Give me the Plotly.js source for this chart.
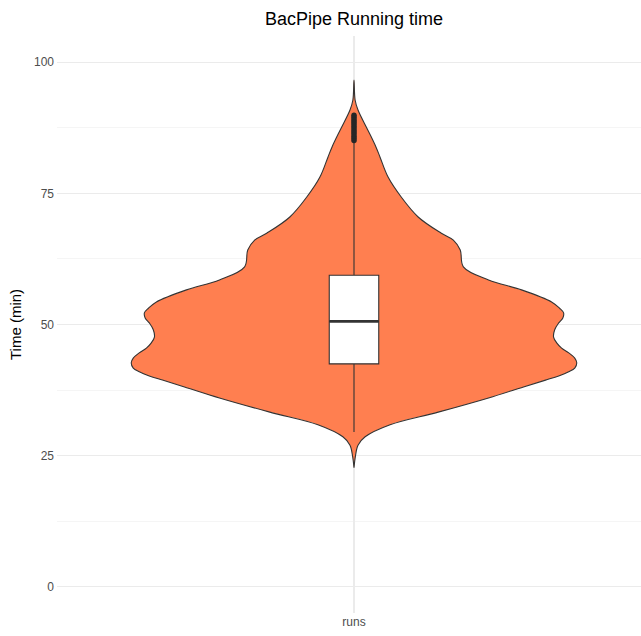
<!DOCTYPE html>
<html>
<head>
<meta charset="utf-8">
<script src="https://cdn.plot.ly/plotly-3.0.1.min.js"></script>
<style>html,body{margin:0;padding:0;background:#fff;}#chart{width:641px;height:636px;}</style>
</head>
<body>
<div id="chart"></div>
<script>
// Category
const categories = ['runs'];
// Violin outline: time values (min) and relative density (0..1)
const densityY = [96.6, 92.8, 90.9, 87.0, 83.8, 81.9, 78.1, 74.3, 70.5, 67.4, 66.1, 64.2, 61.0, 58.5, 56.6, 54.3, 53.1, 52.2, 51.2, 50.3, 49.0, 47.6, 46.5, 45.5, 44.6, 43.6, 42.7, 41.7, 41.0, 40.2, 39.4, 38.1, 36.0, 33.3, 30.9, 28.6, 27.0, 24.8, 22.7];
const densityW = [0, 0.005, 0.018, 0.063, 0.099, 0.117, 0.153, 0.212, 0.288, 0.392, 0.446, 0.477, 0.491, 0.604, 0.752, 0.887, 0.923, 0.941, 0.937, 0.919, 0.901, 0.896, 0.910, 0.932, 0.964, 0.991, 1.0, 0.991, 0.964, 0.919, 0.860, 0.761, 0.604, 0.378, 0.162, 0.050, 0.018, 0.006, 0];
// Box statistics
const q1 = [42.5];
const median = [50.6];
const q3 = [59.4];
const lowerWhisker = [29.5];
const upperWhisker = [85.0];
// Outliers
const outliers = [85.1, 85.5, 85.9, 86.3, 86.7, 87.1, 87.5, 87.9, 88.3, 88.7, 89.1, 89.5, 89.9];
// Tick labels
const yTicks = [0, 25, 50, 75, 100];

const pos = 1;           // position of the category on the x axis
const violinHalf = 0.45; // ggplot default width 0.9
const boxWidth = 0.1;

const vx = [], vy = [];
for (let i = 0; i < densityY.length; i++) { vx.push(pos - violinHalf * densityW[i]); vy.push(densityY[i]); }
for (let i = densityY.length - 1; i >= 0; i--) { vx.push(pos + violinHalf * densityW[i]); vy.push(densityY[i]); }

const traces = [
  {
    type: 'scatter', mode: 'lines', x: vx, y: vy, fill: 'toself',
    fillcolor: '#FF7F50', line: {color: '#333333', width: 1.1, shape: 'spline', smoothing: 1},
    hoverinfo: 'skip', showlegend: false, xaxis: 'x', yaxis: 'y'
  },
  {
    type: 'box', orientation: 'v', x: [pos], q1: q1, median: median, q3: q3,
    lowerfence: lowerWhisker, upperfence: upperWhisker,
    width: boxWidth, whiskerwidth: 0, boxpoints: false,
    fillcolor: '#FFFFFF', line: {color: '#333333', width: 1.1}, showlegend: false,
    xaxis: 'x2', yaxis: 'y2'
  },
  {
    type: 'scatter', mode: 'lines', x: [pos - boxWidth / 2, pos + boxWidth / 2], y: [median[0], median[0]],
    line: {color: '#333333', width: 2.6}, hoverinfo: 'skip', showlegend: false,
    xaxis: 'x2', yaxis: 'y2'
  },
  {
    type: 'scatter', mode: 'markers', x: outliers.map(() => pos), y: outliers,
    marker: {color: '#262626', size: 5.5}, showlegend: false,
    xaxis: 'x2', yaxis: 'y2'
  }
];

const font = 'Liberation Sans, Arial, Helvetica, sans-serif';
const xRange = [0.4, 0.4 + 584 / 495];
const yRange = [-5, 105];
const layout = {
  width: 641, height: 636,
  margin: {l: 57, r: 0, t: 36, b: 23, pad: 0},
  paper_bgcolor: '#FFFFFF', plot_bgcolor: '#FFFFFF',
  showlegend: false,
  font: {family: font},
  title: {text: 'BacPipe Running time', x: 354 / 641, xref: 'container', xanchor: 'center',
          y: 1 - 19 / 636, yref: 'container', yanchor: 'middle',
          font: {size: 18, color: '#000000', family: font}},
  xaxis: {
    range: xRange, tickvals: [pos], ticktext: categories,
    showgrid: true, gridcolor: '#EBEBEB', gridwidth: 1.2, zeroline: false, showline: false,
    ticks: '', tickfont: {size: 12, color: '#4D4D4D', family: font}, fixedrange: true
  },
  yaxis: {
    range: yRange, tickvals: yTicks, ticktext: yTicks.map(String),
    showgrid: true, gridcolor: '#EBEBEB', gridwidth: 1.2, zeroline: false, showline: false,
    minor: {dtick: 12.5, tick0: 0, showgrid: true, gridcolor: '#F2F2F2', gridwidth: 0.8, ticks: ''},
    ticks: '', ticklabelstandoff: 2, tickfont: {size: 12, color: '#4D4D4D', family: font},
    title: {text: 'Time (min)', font: {size: 15, color: '#000000', family: font}, standoff: 8},
    automargin: false
  },
  xaxis2: {range: xRange, overlaying: 'x', visible: false, showgrid: false, zeroline: false},
  yaxis2: {range: yRange, overlaying: 'y', visible: false, showgrid: false, zeroline: false}
};

Plotly.newPlot('chart', traces, layout, {displayModeBar: false, staticPlot: true});
</script>
</body>
</html>
